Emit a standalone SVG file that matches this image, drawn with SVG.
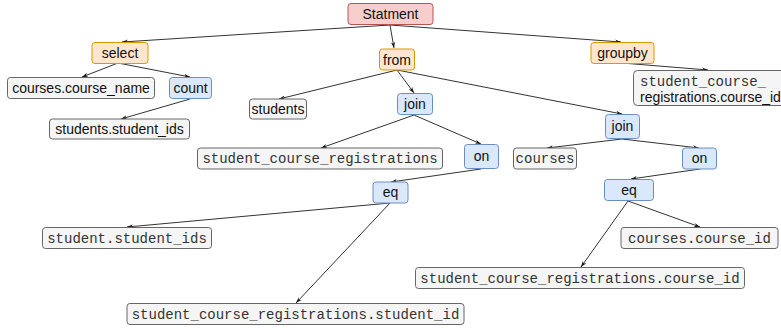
<svg xmlns="http://www.w3.org/2000/svg" width="781" height="329" viewBox="0 0 781 329">
<defs>
<marker id="ah" viewBox="0 0 10 10" refX="10" refY="5" markerWidth="6" markerHeight="6" orient="auto">
<path d="M0,1.5 L10,5 L0,8.5 L3,5 Z" fill="#1a1a1a"/>
</marker>
<style>
.gray{fill:#f5f5f5;stroke:#666666;stroke-width:1}
.blue{fill:#dae8fc;stroke:#6c8ebf;stroke-width:1}
.orange{fill:#ffe6cc;stroke:#d79b00;stroke-width:1}
.red{fill:#f8cecc;stroke:#b85450;stroke-width:1}
.s{font-family:"Liberation Sans",Arial,sans-serif;font-size:14px;fill:#111;text-anchor:middle}
.m{font-family:"Liberation Mono","Courier New",monospace;font-size:14px;fill:#333;text-anchor:middle}
.e{stroke:#333;stroke-width:1;fill:none;marker-end:url(#ah)}
</style>
</defs>
<rect width="781" height="329" fill="#ffffff"/>
<g id="connectors">
<line class="e" x1="390" y1="25" x2="122" y2="42"/>
<line class="e" x1="390" y1="25" x2="394" y2="48"/>
<line class="e" x1="390" y1="25" x2="621" y2="42"/>
<line class="e" x1="118" y1="63" x2="82" y2="77"/>
<line class="e" x1="118" y1="63" x2="190" y2="77"/>
<line class="e" x1="190" y1="99" x2="121" y2="119"/>
<line class="e" x1="622" y1="63" x2="708" y2="70"/>
<line class="e" x1="397" y1="70" x2="279" y2="99"/>
<line class="e" x1="397" y1="70" x2="414" y2="93"/>
<line class="e" x1="397" y1="70" x2="622" y2="114"/>
<line class="e" x1="414" y1="115" x2="321" y2="148"/>
<line class="e" x1="414" y1="115" x2="481" y2="144"/>
<line class="e" x1="481" y1="169" x2="391" y2="182"/>
<line class="e" x1="390" y1="203" x2="127" y2="227"/>
<line class="e" x1="390" y1="203" x2="296" y2="303"/>
<line class="e" x1="622" y1="139" x2="547" y2="148"/>
<line class="e" x1="622" y1="139" x2="699" y2="148"/>
<line class="e" x1="700" y1="169" x2="631" y2="179"/>
<line class="e" x1="628" y1="201" x2="700" y2="227"/>
<line class="e" x1="628" y1="201" x2="581" y2="267"/>
</g>
<g id="statment"><rect class="red" x="348" y="3.5" width="85" height="21" rx="3"/><text class="s" x="390.5" y="19">Statment</text></g>
<g id="select"><rect class="orange" x="92" y="42.5" width="56" height="21" rx="3"/><text class="s" x="120" y="58">select</text></g>
<g id="groupby"><rect class="orange" x="591" y="42.5" width="63" height="21" rx="3"/><text class="s" x="622.5" y="58">groupby</text></g>
<g id="from"><rect class="orange" x="379.5" y="49" width="35" height="21" rx="3"/><text class="s" x="397" y="64.5">from</text></g>
<g id="course_name"><rect class="gray" x="7.5" y="77.5" width="147" height="21" rx="3"/><text class="s" x="81" y="93">courses.course_name</text></g>
<g id="count"><rect class="blue" x="169.5" y="77.5" width="42" height="21" rx="3"/><text class="s" x="190.5" y="93">count</text></g>
<g id="student_ids"><rect class="gray" x="49.5" y="119" width="140" height="20" rx="3"/><text class="s" x="119.5" y="134">students.student_ids</text></g>
<g id="groupby_col"><rect class="gray" x="633.5" y="70.5" width="160" height="35" rx="4"/><text class="m" x="640" y="86" style="text-anchor:start">student_course_</text><text class="s" x="640" y="102" style="text-anchor:start">registrations.course_id</text></g>
<g id="students"><rect class="gray" x="249.5" y="99" width="57" height="20" rx="3"/><text class="s" x="278" y="114">students</text></g>
<g id="join1"><rect class="blue" x="397.5" y="93.5" width="35" height="21" rx="3"/><text class="s" x="415" y="109">join</text></g>
<g id="scr"><rect class="gray" x="197.5" y="148" width="245" height="21" rx="3"/><text class="m" x="320" y="163">student_course_registrations</text></g>
<g id="on1"><rect class="blue" x="464.5" y="144.5" width="34" height="24" rx="3"/><text class="s" x="481.5" y="161">on</text></g>
<g id="join2"><rect class="blue" x="605.5" y="114.5" width="34" height="24" rx="3"/><text class="s" x="622.5" y="131">join</text></g>
<g id="courses"><rect class="gray" x="513.5" y="148" width="63" height="21" rx="3"/><text class="m" x="545" y="163">courses</text></g>
<g id="on2"><rect class="blue" x="682.5" y="148" width="34" height="21" rx="3"/><text class="s" x="699.5" y="163">on</text></g>
<g id="eq1"><rect class="blue" x="373" y="182" width="35" height="21" rx="3"/><text class="s" x="390.5" y="197">eq</text></g>
<g id="eq2"><rect class="blue" x="604.5" y="179.5" width="49" height="21" rx="3"/><text class="s" x="629" y="195">eq</text></g>
<g id="s_student_ids"><rect class="gray" x="42.5" y="227.5" width="169" height="21" rx="3"/><text class="m" x="127" y="243">student.student_ids</text></g>
<g id="c_course_id"><rect class="gray" x="621" y="227.5" width="157" height="21" rx="3"/><text class="m" x="699.5" y="243">courses.course_id</text></g>
<g id="scr_course_id"><rect class="gray" x="415.5" y="267.5" width="329" height="21" rx="3"/><text class="m" x="580" y="283">student_course_registrations.course_id</text></g>
<g id="scr_student_id"><rect class="gray" x="127" y="303.5" width="337" height="21" rx="3"/><text class="m" x="295.5" y="319">student_course_registrations.student_id</text></g>
</svg>
